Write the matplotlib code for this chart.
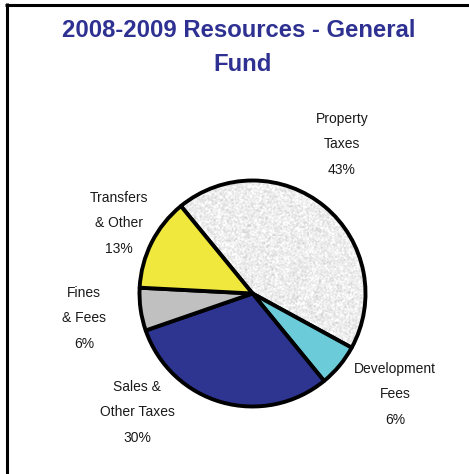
import numpy as np
import matplotlib

matplotlib.use("Agg")
import matplotlib.pyplot as plt
from matplotlib.lines import Line2D

# General Fund resources, 2008-2009 (percent of total)
categories = ["Property\nTaxes", "Development\nFees", "Sales &\nOther Taxes", "Fines\n& Fees", "Transfers\n& Other"]
shares = [43, 6, 30, 6, 13]
colors = ["#f0f0f0", "#6ccbd8", "#2e3590", "#c0c0c0", "#f0e83c"]

# label centres, in units of the pie radius
label_xy = [(0.79, 1.32), (1.26, -0.89), (-1.02, -1.05), (-1.49, -0.22), (-1.18, 0.62)]

W, H = 469, 474
CX, CY, R = 252.5, 293.5, 113.0  # pie centre / radius in pixels

fig = plt.figure(figsize=(W / 100, H / 100), dpi=100, facecolor="white")
ax = fig.add_axes([0, 0, 1, 1])

wedges, _ = ax.pie(
    shares,
    colors=colors,
    startangle=129.3,
    counterclock=False,
    wedgeprops=dict(edgecolor="black", linewidth=2.8, joinstyle="round"),
)

# speckled fill for the property-tax slice
wedges[0].set_facecolor("none")
rng = np.random.default_rng(7)
grain = rng.standard_normal((232, 232))
grain = (grain + np.roll(grain, 1, 0) + np.roll(grain, 1, 1) + np.roll(np.roll(grain, 1, 0), 1, 1)) / 4
tex = np.clip(0.93 + 0.07 * grain, 0.7, 1.0)
im = ax.imshow(tex, cmap="gray", vmin=0, vmax=1, extent=(-1, 1, -1, 1),
               interpolation="nearest", zorder=0.5)
im.set_clip_path(wedges[0])

label_font = ["Liberation Sans Narrow", "Liberation Sans", "DejaVu Sans"]
for name, share, (lx, ly) in zip(categories, shares, label_xy):
    ax.text(lx, ly, f"{name}\n{share}%", ha="center", va="center",
            fontsize=10, family=label_font, color="#1a1a1a", linespacing=2.05)

ax.set_xlim(-CX / R, (W - CX) / R)
ax.set_ylim(-(H - CY) / R, CY / R)
ax.set_aspect("auto")
ax.axis("off")

title_kw = dict(ha="center", va="baseline", fontsize=17.2, fontweight="bold",
                color="#2e3192", family=["Liberation Sans", "DejaVu Sans"])
fig.text(238.5 / W, 1 - 37.3 / H, "2008-2009 Resources - General", **title_kw)
fig.text(243 / W, 1 - 71 / H, "Fund", **title_kw)

# frame along the top and left edges
fig.add_artist(Line2D([5 / W, 1], [1 - 4.5 / H] * 2, color="black", lw=2.2,
                      solid_capstyle="butt"))
fig.add_artist(Line2D([6.5 / W] * 2, [0, 1 - 3 / H], color="black", lw=2.2,
                      solid_capstyle="butt"))

fig.savefig("out.png", dpi=100, facecolor="white")
